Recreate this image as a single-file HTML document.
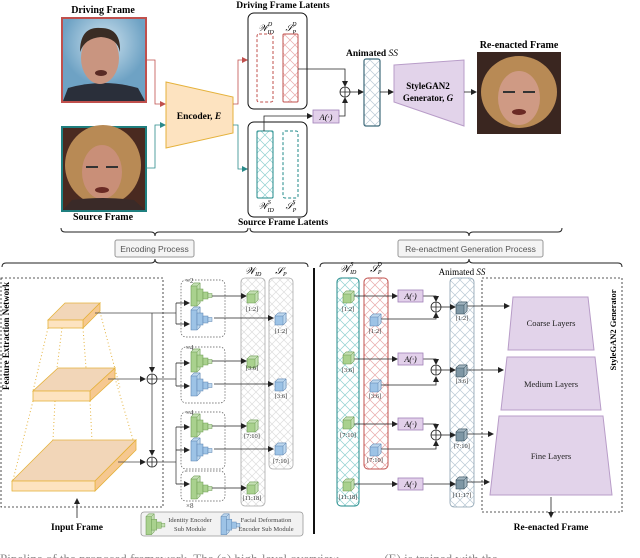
<!DOCTYPE html>
<html><head><meta charset="utf-8"><style>
body{margin:0;background:#fff}
svg{display:block;font-family:"Liberation Serif",serif}
</style></head><body>
<svg width="640" height="558" viewBox="0 0 640 558" xmlns="http://www.w3.org/2000/svg">
<defs>
<pattern id="hg" width="8" height="8" patternUnits="userSpaceOnUse"><path d="M0 0L8 8M8 0L0 8" stroke="#ddd" stroke-width="0.7"/></pattern>
<pattern id="hr" width="10" height="10" patternUnits="userSpaceOnUse"><path d="M0 0L10 10M10 0L0 10" stroke="#e8a8a8" stroke-width="0.7"/></pattern>
<pattern id="ht" width="10" height="10" patternUnits="userSpaceOnUse"><path d="M0 0L10 10M10 0L0 10" stroke="#8fd0d0" stroke-width="0.7"/></pattern>
<pattern id="hb" width="10" height="10" patternUnits="userSpaceOnUse"><path d="M0 0L10 10M10 0L0 10" stroke="#b8c8d4" stroke-width="0.7"/></pattern>
<marker id="a" markerWidth="6" markerHeight="6" refX="5" refY="3" orient="auto" markerUnits="userSpaceOnUse"><path d="M0 0L6 3L0 6z" fill="#222"/></marker>
<marker id="ar" markerWidth="6" markerHeight="6" refX="5" refY="3" orient="auto" markerUnits="userSpaceOnUse"><path d="M0 0L6 3L0 6z" fill="#c0504d"/></marker>
<marker id="at" markerWidth="6" markerHeight="6" refX="5" refY="3" orient="auto" markerUnits="userSpaceOnUse"><path d="M0 0L6 3L0 6z" fill="#2a8a8a"/></marker>
<g id="gm"><path d="M0 4l3-3h6v20l-3 3H0z" fill="#a9d18e" stroke="#6a9a50" stroke-width="0.6"/><path d="M0 4l3-3h6l-3 3z M6 4l3-3v20l-3 3z" fill="#c5e0b4" stroke="#6a9a50" stroke-width="0.5"/><rect x="6" y="7" width="6" height="12" fill="#a9d18e" stroke="#6a9a50" stroke-width="0.5"/><rect x="12" y="10" width="5" height="7" fill="#a9d18e" stroke="#6a9a50" stroke-width="0.5"/><rect x="17" y="11.5" width="4" height="4" fill="#c5e0b4" stroke="#6a9a50" stroke-width="0.5"/></g>
<g id="bm"><path d="M0 4l3-3h6v20l-3 3H0z" fill="#9dc3e6" stroke="#5a82b0" stroke-width="0.6"/><path d="M0 4l3-3h6l-3 3z M6 4l3-3v20l-3 3z" fill="#bdd7ee" stroke="#5a82b0" stroke-width="0.5"/><rect x="6" y="7" width="6" height="12" fill="#9dc3e6" stroke="#5a82b0" stroke-width="0.5"/><rect x="12" y="10" width="5" height="7" fill="#9dc3e6" stroke="#5a82b0" stroke-width="0.5"/><rect x="17" y="11.5" width="4" height="4" fill="#bdd7ee" stroke="#5a82b0" stroke-width="0.5"/></g>
<g id="gc"><path d="M-5-3l3-3h8v9l-3 3h-8z" fill="#a9d18e" stroke="#6a9a50" stroke-width="0.6"/><path d="M-5-3l3-3h8l-3 3z M3-3l3-3v9l-3 3z" fill="#c5e0b4" stroke="#6a9a50" stroke-width="0.5"/></g>
<g id="bc"><path d="M-5-3l3-3h8v9l-3 3h-8z" fill="#9dc3e6" stroke="#5a82b0" stroke-width="0.6"/><path d="M-5-3l3-3h8l-3 3z M3-3l3-3v9l-3 3z" fill="#bdd7ee" stroke="#5a82b0" stroke-width="0.5"/></g>
<g id="dc"><path d="M-5-3l3-3h8v9l-3 3h-8z" fill="#7e97a5" stroke="#2f4856" stroke-width="0.6"/><path d="M-5-3l3-3h8l-3 3z M3-3l3-3v9l-3 3z" fill="#a2b5c0" stroke="#2f4856" stroke-width="0.5"/></g>
<g id="op"><circle r="5" fill="#fff" stroke="#222" stroke-width="0.8"/><path d="M-5 0H5M0-5V5" stroke="#222" stroke-width="0.8"/></g>
<radialGradient id="sky" cx="0.5" cy="0.3"><stop offset="0" stop-color="#cfe3ef"/><stop offset="1" stop-color="#6ea2c4"/></radialGradient>
</defs>

<text x="103" y="13" font-size="10" font-weight="bold" text-anchor="middle">Driving Frame</text>
<rect x="62" y="18" width="84" height="84" fill="url(#sky)" stroke="#c0504d" stroke-width="2"/>
<path d="M63 101 L68 88 Q103 78 138 88 L145 101z" fill="#2a2f3a"/>
<ellipse cx="100" cy="58" rx="19" ry="26" fill="#c99580"/>
<path d="M80 52 Q80 26 101 28 Q121 28 120 52 Q117 38 101 37 Q85 38 80 52z" fill="#3a2c24"/>
<ellipse cx="101" cy="73" rx="6" ry="3" fill="#5a2a24"/>
<text x="103" y="220" font-size="10" font-weight="bold" text-anchor="middle">Source Frame</text>
<rect x="62" y="127" width="84" height="84" fill="#4a2a20" stroke="#1f7f7f" stroke-width="2"/>
<ellipse cx="103" cy="165" rx="38" ry="40" fill="#b88a55"/>
<ellipse cx="102" cy="172" rx="20" ry="27" fill="#c98f78"/>
<path d="M86 167h12M106 167h12" stroke="#333" stroke-width="2"/>
<ellipse cx="102" cy="190" rx="7" ry="3" fill="#6a2a24"/>
<path d="M63 210 L72 200 Q103 196 134 200 L145 210z" fill="#3a2a28"/>

<path d="M146 60H155V104H165" fill="none" stroke="#c0504d" stroke-width="0.8" marker-end="url(#ar)"/>
<path d="M146 168H155V125H165" fill="none" stroke="#2a8a8a" stroke-width="0.8" marker-end="url(#at)"/>
<path d="M166 82 L233 97 L233 133 L166 148z" fill="#fde3c0" stroke="#e5b23c" stroke-width="1"/>
<text x="199" y="119" font-size="9.5" font-weight="bold" text-anchor="middle">Encoder, <tspan font-style="italic">E</tspan></text>
<path d="M233 104H238V60H247" fill="none" stroke="#c0504d" stroke-width="0.8" marker-end="url(#ar)"/>
<path d="M233 125H238V169H247" fill="none" stroke="#2a8a8a" stroke-width="0.8" marker-end="url(#at)"/>

<text x="283" y="8" font-size="9.5" font-weight="bold" text-anchor="middle">Driving Frame Latents</text>
<rect x="248" y="13" width="59" height="96" rx="6" fill="#fff" stroke="#111" stroke-width="1"/>
<text x="266" y="31" font-size="9" font-style="italic" text-anchor="middle">𝒲<tspan font-size="6" dy="3">ID</tspan><tspan font-size="6" dx="-6" dy="-8">D</tspan></text>
<text x="291" y="31" font-size="9" font-style="italic" text-anchor="middle">𝒮<tspan font-size="6" dy="3">P</tspan><tspan font-size="6" dx="-4" dy="-8">D</tspan></text>
<rect x="257" y="34" width="16" height="68" rx="2" fill="none" stroke="#c0504d" stroke-width="1" stroke-dasharray="3 2"/>
<rect x="283" y="34" width="15" height="68" rx="1" fill="url(#hr)" stroke="#c0504d" stroke-width="1"/>
<rect x="248" y="122" width="59" height="95" rx="6" fill="#fff" stroke="#111" stroke-width="1"/>
<rect x="257" y="131" width="16" height="67" rx="1" fill="url(#ht)" stroke="#1f8a8a" stroke-width="1"/>
<rect x="283" y="131" width="15" height="67" rx="2" fill="none" stroke="#1f8a8a" stroke-width="1" stroke-dasharray="3 2"/>
<text x="266" y="209" font-size="9" font-style="italic" text-anchor="middle">𝒲<tspan font-size="6" dy="3">ID</tspan><tspan font-size="6" dx="-6" dy="-8">S</tspan></text>
<text x="291" y="209" font-size="9" font-style="italic" text-anchor="middle">𝒮<tspan font-size="6" dy="3">P</tspan><tspan font-size="6" dx="-4" dy="-8">S</tspan></text>
<text x="283" y="225" font-size="9.5" font-weight="bold" text-anchor="middle">Source Frame Latents</text>

<path d="M264 131V116H312" fill="none" stroke="#222" stroke-width="0.8" marker-end="url(#a)"/>
<rect x="313" y="110" width="26" height="13" fill="#e2d0ea" stroke="#a080b8" stroke-width="0.8"/>
<text x="326" y="120" font-size="8.5" font-style="italic" text-anchor="middle">A(·)</text>
<path d="M339 116H345V98" fill="none" stroke="#222" stroke-width="0.8" marker-end="url(#a)"/>
<path d="M298 69H345V86" fill="none" stroke="#222" stroke-width="0.8" marker-end="url(#a)"/>
<use href="#op" x="345" y="92"/>
<path d="M350 92H363" stroke="#222" stroke-width="0.8" marker-end="url(#a)"/>
<text x="372" y="56" font-size="9.5" font-weight="bold" text-anchor="middle">Animated <tspan font-style="italic" font-weight="normal">SS</tspan></text>
<rect x="364" y="59" width="16" height="67" rx="2" fill="url(#hb)" stroke="#3f6a7a" stroke-width="1.2"/>
<path d="M380 92H393" stroke="#222" stroke-width="0.8" marker-end="url(#a)"/>
<path d="M394 65 L464 60 L464 126 L394 102z" fill="#e2d3ea" stroke="#b89cc8" stroke-width="1"/>
<text x="428" y="89" font-size="9" font-weight="bold" text-anchor="middle">StyleGAN2</text>
<text x="428" y="101" font-size="9" font-weight="bold" text-anchor="middle">Generator, <tspan font-style="italic">G</tspan></text>
<path d="M464 92H476" stroke="#222" stroke-width="0.8" marker-end="url(#a)"/>
<text x="519" y="48" font-size="10" font-weight="bold" text-anchor="middle">Re-enacted Frame</text>
<rect x="477" y="52" width="84" height="82" fill="#3a2620"/>
<ellipse cx="519" cy="92" rx="38" ry="36" fill="#b88a55"/>
<ellipse cx="519" cy="98" rx="21" ry="27" fill="#cf9a84"/>
<path d="M503 92h12M523 92h12" stroke="#333" stroke-width="2"/>
<ellipse cx="519" cy="112" rx="7" ry="3" fill="#6a2a24"/>

<g fill="none" stroke="#222" stroke-width="1">
<path d="M61 228Q61 232 65 232H151Q155 232 155 236Q155 232 159 232H244Q248 232 248 228"/>
<path d="M250 228Q250 232 254 232H465Q469 232 469 236Q469 232 473 232H558Q562 232 562 228"/>
<path d="M2 267Q2 263 6 263H151Q155 263 155 259Q155 263 159 263H304Q308 263 308 267"/>
<path d="M320 267Q320 263 324 263H465Q469 263 469 259Q469 263 473 263H618Q622 263 622 267"/>
</g>
<rect x="115" y="240" width="79" height="17" rx="2" fill="#f4f4f4" stroke="#999"/>
<text x="154.5" y="252" font-size="8.5" fill="#555" text-anchor="middle" font-family="Liberation Sans,sans-serif">Encoding Process</text>
<rect x="398" y="240" width="145" height="17" rx="2" fill="#f4f4f4" stroke="#999"/>
<text x="470.5" y="252" font-size="8.5" fill="#555" text-anchor="middle" font-family="Liberation Sans,sans-serif">Re-enactment Generation Process</text>

<rect x="1" y="278" width="162" height="229" fill="none" stroke="#222" stroke-width="0.8" stroke-dasharray="2 2"/>
<text transform="translate(9 336) rotate(-90)" font-size="9" font-weight="bold" text-anchor="middle" textLength="108" lengthAdjust="spacingAndGlyphs">Feature Extraction Network</text>
<g stroke="#e5b23c" stroke-width="1" stroke-dasharray="1 2.5" fill="none">
<path d="M48 328L33 391M62 328L57 368M83 328L86 368M100 312L120 388"/>
<path d="M33 401L13 480M55 401L53 440M90 401L94 481M115 378L136 450"/>
</g>
<g stroke="#e5b23c" stroke-width="0.8" fill="#f2d6b8">
<path d="M12 481L53 440H136L95 481z"/><path d="M95 481L136 440V450L95 491z" fill="#f6c890"/><rect x="12" y="481" width="83" height="10" fill="#fde3c0"/>
<path d="M33 391L58 368H115L90 391z"/><path d="M90 391L115 368V378L90 401z" fill="#f6c890"/><rect x="33" y="391" width="57" height="10" fill="#fde3c0"/>
<path d="M48 320L65 303H100L83 320z"/><path d="M83 320L100 303V311L83 328z" fill="#f6c890"/><rect x="48" y="320" width="35" height="8" fill="#fde3c0"/>
</g>
<path d="M77 518V499" stroke="#222" stroke-width="0.8" marker-end="url(#a)"/>
<text x="77" y="530" font-size="9.5" font-weight="bold" text-anchor="middle">Input Frame</text>

<g fill="none" stroke="#444" stroke-width="0.8">
<path d="M95 313H176"/>
<path d="M152 313V372" marker-end="url(#a)"/>
<path d="M152 384V455" marker-end="url(#a)"/>
<path d="M108 379H145" marker-end="url(#a)"/>
<path d="M118 462H145" marker-end="url(#a)"/>
<path d="M157 379H176M157 462H176"/>
<path d="M176 303V324M176 363V386M176 427V450M176 440V484"/>
</g>
<use href="#op" x="152" y="379"/><use href="#op" x="152" y="462"/>
<g stroke="#222" stroke-width="0.8" marker-end="url(#a)">
<path d="M176 303H189"/><path d="M176 324H189"/>
<path d="M176 363H189"/><path d="M176 386H189"/>
<path d="M176 427H189"/><path d="M176 450H189"/>
<path d="M176 484H189"/>
</g>
<g fill="none" stroke="#555" stroke-width="0.7" stroke-dasharray="1.5 1.5">
<rect x="181" y="280" width="44" height="57" rx="5"/>
<rect x="181" y="347" width="44" height="56" rx="5"/>
<rect x="181" y="412" width="44" height="57" rx="5"/>
<rect x="181" y="471" width="44" height="30" rx="5"/>
</g>
<g font-size="7" fill="#444"><text x="186" y="283">×2</text><text x="186" y="350">×4</text><text x="186" y="415">×4</text><text x="186" y="508">×8</text></g>
<use href="#gm" x="191" y="282"/><use href="#bm" x="191" y="306"/>
<use href="#gm" x="191" y="348"/><use href="#bm" x="191" y="372"/>
<use href="#gm" x="191" y="413"/><use href="#bm" x="191" y="437"/>
<use href="#gm" x="191" y="475"/>

<rect x="241" y="278" width="24" height="228" rx="4" fill="url(#hg)" stroke="#aaa" stroke-width="0.8"/>
<rect x="269" y="278" width="24" height="191" rx="4" fill="url(#hg)" stroke="#aaa" stroke-width="0.8"/>
<text x="253" y="274" font-size="10" font-style="italic" text-anchor="middle">𝒲<tspan font-size="6" dy="2">ID</tspan></text>
<text x="281" y="274" font-size="10" font-style="italic" text-anchor="middle">𝒮<tspan font-size="6" dy="2">P</tspan></text>
<g stroke="#222" stroke-width="0.8" marker-end="url(#a)">
<path d="M212 296H246"/><path d="M214 318H273"/>
<path d="M212 361H246"/><path d="M214 384H273"/>
<path d="M212 426H246"/><path d="M214 449H273"/>
<path d="M212 488H246"/>
</g>
<use href="#gc" x="252" y="297"/><use href="#gc" x="252" y="362"/><use href="#gc" x="252" y="426"/><use href="#gc" x="252" y="488"/>
<use href="#bc" x="280" y="319"/><use href="#bc" x="280" y="385"/><use href="#bc" x="280" y="449"/>
<g font-size="6.5" fill="#333" text-anchor="middle">
<text x="252" y="311">[1:2]</text><text x="252" y="370">[3:6]</text><text x="252" y="438">[7:10]</text><text x="252" y="500">[11:18]</text>
<text x="281" y="333">[1:2]</text><text x="281" y="398">[3:6]</text><text x="281" y="463">[7:10]</text>
</g>
<rect x="141" y="512" width="162" height="24" rx="3" fill="#f2f2f2" stroke="#999" stroke-width="0.8"/>
<g transform="translate(146 513) scale(0.9)"><use href="#gm"/></g>
<g transform="translate(221 513) scale(0.9)"><use href="#bm"/></g>
<g font-size="6.5" fill="#444" text-anchor="middle"><text x="190" y="522">Identity Encoder</text><text x="190" y="531">Sub Module</text><text x="266" y="522">Facial Deformation</text><text x="266" y="531">Encoder Sub Module</text></g>

<rect x="313" y="268" width="2" height="266" fill="#111"/>

<rect x="337" y="278" width="22" height="228" rx="4" fill="url(#ht)" stroke="#1f8a8a" stroke-width="1"/>
<rect x="364" y="278" width="24" height="191" rx="4" fill="url(#hr)" stroke="#c0504d" stroke-width="1"/>
<text x="348" y="272" font-size="10" font-style="italic" text-anchor="middle">𝒲<tspan font-size="6" dy="2">ID</tspan><tspan font-size="6" dx="-6" dy="-8">S</tspan></text>
<text x="376" y="272" font-size="10" font-style="italic" text-anchor="middle">𝒮<tspan font-size="6" dy="2">P</tspan><tspan font-size="6" dx="-4" dy="-8">D</tspan></text>
<rect x="450" y="278" width="24" height="229" rx="4" fill="url(#hb)" stroke="#8aa0b0" stroke-width="0.8"/>
<text x="462" y="275" font-size="9" text-anchor="middle">Animated <tspan font-style="italic">SS</tspan></text>
<g stroke="#222" stroke-width="0.8" fill="none">
<path d="M353 296H397" marker-end="url(#a)"/><path d="M353 359H397" marker-end="url(#a)"/><path d="M353 424H397" marker-end="url(#a)"/><path d="M353 484H397" marker-end="url(#a)"/>
<path d="M423 296H436V301" marker-end="url(#a)"/><path d="M423 359H436V364" marker-end="url(#a)"/><path d="M423 424H436V429" marker-end="url(#a)"/>
<path d="M380 319H436V313" marker-end="url(#a)"/><path d="M380 385H436V377" marker-end="url(#a)"/><path d="M380 449H436V441" marker-end="url(#a)"/>
<path d="M441 307H455" marker-end="url(#a)"/><path d="M441 370H455" marker-end="url(#a)"/><path d="M441 435H455" marker-end="url(#a)"/><path d="M423 484H455" marker-end="url(#a)"/>
<path d="M467 306H509" marker-end="url(#a)"/><path d="M467 370H503" marker-end="url(#a)"/><path d="M467 434H493" marker-end="url(#a)"/><path d="M467 482H489" marker-end="url(#a)"/>
</g>
<use href="#op" x="436" y="307"/><use href="#op" x="436" y="370"/><use href="#op" x="436" y="435"/>
<g fill="#e2d0ea" stroke="#a080b8" stroke-width="0.8">
<rect x="398" y="290" width="25" height="12"/><rect x="398" y="353" width="25" height="12"/><rect x="398" y="418" width="25" height="12"/><rect x="398" y="478" width="25" height="12"/>
</g>
<g font-size="8" font-style="italic" text-anchor="middle"><text x="410.5" y="299">A(·)</text><text x="410.5" y="362">A(·)</text><text x="410.5" y="427">A(·)</text><text x="410.5" y="487">A(·)</text></g>
<use href="#gc" x="348" y="297"/><use href="#gc" x="348" y="358"/><use href="#gc" x="348" y="423"/><use href="#gc" x="348" y="485"/>
<use href="#bc" x="375" y="320"/><use href="#bc" x="375" y="386"/><use href="#bc" x="375" y="450"/>
<use href="#dc" x="461" y="308"/><use href="#dc" x="461" y="371"/><use href="#dc" x="461" y="435"/><use href="#dc" x="461" y="483"/>
<g font-size="6.5" fill="#333" text-anchor="middle">
<text x="348" y="311">[1:2]</text><text x="348" y="372">[3:6]</text><text x="348" y="437">[7:10]</text><text x="348" y="499">[11:18]</text>
<text x="375" y="333">[1:2]</text><text x="375" y="398">[3:6]</text><text x="375" y="462">[7:10]</text>
<text x="462" y="320">[1:2]</text><text x="462" y="383">[3:6]</text><text x="462" y="448">[7:10]</text><text x="462" y="497">[11:17]</text>
</g>
<rect x="482" y="278" width="140" height="234" fill="none" stroke="#222" stroke-width="0.8" stroke-dasharray="2 2"/>
<text transform="translate(616 330) rotate(-90)" font-size="8.5" font-weight="bold" text-anchor="middle">StyleGAN2 Generator</text>
<g fill="#e2d3ea" stroke="#b89cc8" stroke-width="1">
<path d="M513 297H588L594 350H508z"/>
<path d="M507 357H595L601 410H501z"/>
<path d="M499 416H603L612 495H490z"/>
</g>
<g font-size="8.5" text-anchor="middle" fill="#222"><text x="551" y="326">Coarse Layers</text><text x="551" y="387">Medium Layers</text><text x="551" y="459">Fine Layers</text></g>
<path d="M551 497V517" stroke="#222" stroke-width="0.8" marker-end="url(#a)"/>
<text x="551" y="530" font-size="9.5" font-weight="bold" text-anchor="middle">Re-enacted Frame</text>

<text x="0" y="563" font-size="13" fill="#888">Pipeline of the proposed framework. The (a) high-level overview ............ (E) is trained with the</text>
</svg>
</body></html>
